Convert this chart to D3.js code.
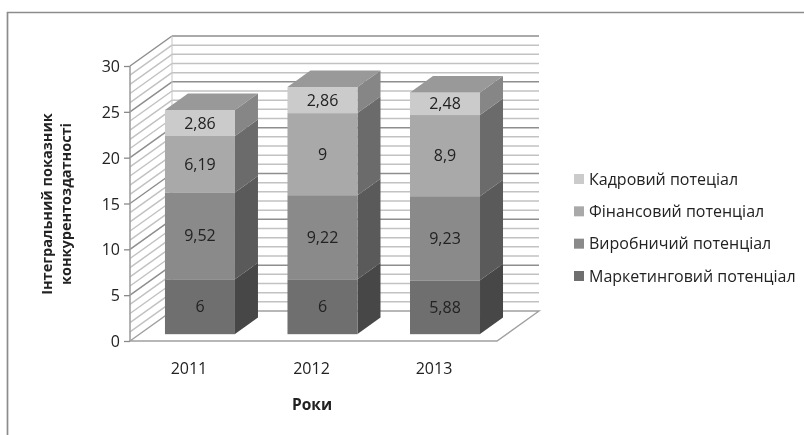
<!DOCTYPE html>
<html><head><meta charset="utf-8">
<script src="https://cdn.jsdelivr.net/npm/d3@7"></script>
<style>html,body{margin:0;background:#fff}svg{display:block;filter:blur(0.35px)}text{font-family:"Open Sans",sans-serif;fill:#222}</style>
</head><body><svg id="c" width="804" height="435"></svg>
<script>
const years = ["2011","2012","2013"];
const seriesNames = ["Маркетинговий потенціал","Виробничий потенціал","Фінансовий потенціал","Кадровий потеціал"];
const marketing = [6,6,5.88];
const production = [9.52,9.22,9.23];
const finance = [6.19,9,8.9];
const staff = [2.86,2.86,2.48];
const yTicks = [0,5,10,15,20,25,30];
const minorTicks = d3.range(0,31);
const frontColors = ["#6f6f6f","#8a8a8a","#a9a9a9","#cbcbcb"];
const sideColors = ["#474747","#5a5a5a","#6b6b6b","#868686"];
const topColor = "#999999";
const legendColors = ["#6f6f6f","#8a8a8a","#a9a9a9","#cbcbcb"];
const fmt = v => String(v).replace(".",",");

const svg = d3.select("#c");
const y = d3.scaleLinear().domain([0,30]).range([341,66]);
const yBar = d3.scaleLinear().domain([0,30]).range([334,60.4]);
const x = d3.scaleBand().domain(years).range([130,497]).paddingInner(0.4286).paddingOuter(0.212).align(0.673);
const wall = {dx:42,dy:-30};
const bar = {dx:23,dy:-16.5};

// frame
svg.append("path").attr("d","M7.5,435V12.5H804").attr("fill","none").attr("stroke","#8c8c8c").attr("stroke-width",1.7);

// left wall and back wall gridlines
const g = svg.append("g");
minorTicks.forEach(t=>{
  const major = t%5===0;
  const col = major ? "#8e8e8e" : "#c2c2c2";
  const w = 1.5;
  if(t>0) g.append("line").attr("x1",130).attr("y1",y(t)).attr("x2",130+wall.dx).attr("y2",y(t)+wall.dy).attr("stroke",col).attr("stroke-width",w);
  if(t>0) g.append("line").attr("x1",130+wall.dx).attr("y1",y(t)+wall.dy).attr("x2",497+wall.dx).attr("y2",y(t)+wall.dy).attr("stroke",col).attr("stroke-width",w);
});
// floor
g.append("path").attr("d",`M130,${y(0)}H497L${497+wall.dx},${y(0)+wall.dy}H${130+wall.dx}Z`).attr("fill","#fff").attr("stroke","#a0a0a0").attr("stroke-width",1.4);
g.append("line").attr("x1",130).attr("x2",130).attr("y1",y(0)).attr("y2",y(30)).attr("stroke","#a0a0a0").attr("stroke-width",1.6);
g.append("line").attr("x1",130+wall.dx).attr("x2",130+wall.dx).attr("y1",y(0)+wall.dy).attr("y2",y(30)+wall.dy).attr("stroke","#c6c6c6").attr("stroke-width",1);

// y axis
const axis = d3.axisLeft(y).tickValues(yTicks).tickSize(6).tickPadding(4).tickFormat(d3.format("d"));
const ax = svg.append("g").attr("transform","translate(130,0)").call(axis);
ax.select(".domain").remove();
ax.selectAll("line").attr("stroke","#8a8a8a").attr("stroke-width",1.3);
ax.selectAll("text").style("font-size","16px").attr("fill","#222").attr("dy","0.35em");

// x labels
const xAxis = d3.axisBottom(x).tickSize(0).tickPadding(0);
const xa = svg.append("g").attr("transform","translate(-11,363)").call(xAxis);
xa.select(".domain").remove();
xa.selectAll("text").style("font-size","16px").attr("fill","#222").attr("dy","0.71em");

// bars
const stackData = years.map((yr,i)=>({year:yr,vals:[marketing[i],production[i],finance[i],staff[i]]}));
stackData.forEach(d=>{
  const x0 = x(d.year), bw = x.bandwidth();
  let acc = 0;
  d.vals.forEach((v,s)=>{
    const yb = yBar(acc), yt = yBar(acc+v);
    svg.append("path").attr("d",`M${x0+bw},${yb}L${x0+bw+bar.dx},${yb+bar.dy}V${yt+bar.dy}L${x0+bw},${yt}Z`).attr("fill",sideColors[s]);
    svg.append("rect").attr("x",x0).attr("y",yt).attr("width",bw).attr("height",yb-yt).attr("fill",frontColors[s]);
    svg.append("text").attr("x",x0+bw/2).attr("y",(yb+yt)/2).attr("dy","0.35em").attr("text-anchor","middle").style("font-size","16px").text(fmt(v));
    acc += v;
  });
  const yt = yBar(acc);
  svg.append("path").attr("d",`M${x0},${yt}L${x0+bar.dx},${yt+bar.dy}H${x0+bw+bar.dx}L${x0+bw},${yt}Z`).attr("fill",topColor);
  svg.append("line").attr("x1",x0).attr("x2",x0+bw).attr("y1",yBar(0)+0.5).attr("y2",yBar(0)+0.5).attr("stroke","#e4e4e4");
});

// titles
svg.append("text").attr("x",312).attr("y",410).attr("text-anchor","middle").style("font-size","15.5px").style("font-weight","700").text("Роки");
const yt = svg.append("text").attr("transform","translate(60,204) rotate(-90)").attr("text-anchor","middle").style("font-size","14.5px").style("font-weight","700");
yt.append("tspan").attr("x",0).attr("y",-8).text("Інтегральний показник");
yt.append("tspan").attr("x",0).attr("y",11).text("конкурентоздатності");

// legend
const legendY = d3.scalePoint().domain(d3.range(4)).range([276,179]);
seriesNames.forEach((n,i)=>{
  svg.append("rect").attr("x",574).attr("y",legendY(i)-5).attr("width",10).attr("height",10).attr("fill",legendColors[i]);
  svg.append("text").attr("x",589).attr("y",legendY(i)).attr("dy","0.35em").style("font-size","16px").text(n);
});
</script></body></html>
